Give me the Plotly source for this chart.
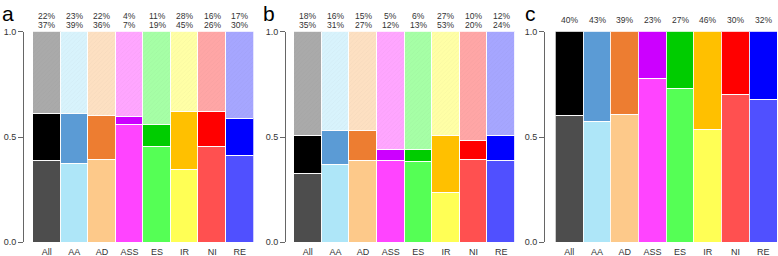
import plotly.graph_objects as go

W, H = 778, 256

categories = ["All", "AA", "AD", "ASS", "ES", "IR", "NI", "RE"]

a_low = [0.386, 0.372, 0.391, 0.557, 0.452, 0.343, 0.452, 0.410]
a_mid = [0.223, 0.237, 0.212, 0.038, 0.105, 0.276, 0.167, 0.175]
a_top = [0.391, 0.391, 0.397, 0.405, 0.443, 0.381, 0.381, 0.415]
a_row1 = ["22%", "23%", "22%", "4%", "11%", "28%", "16%", "17%"]
a_row2 = ["37%", "39%", "36%", "7%", "19%", "45%", "26%", "30%"]

b_low = [0.328, 0.368, 0.387, 0.387, 0.385, 0.236, 0.391, 0.387]
b_mid = [0.180, 0.164, 0.141, 0.051, 0.053, 0.270, 0.091, 0.118]
b_top = [0.492, 0.468, 0.472, 0.562, 0.562, 0.494, 0.518, 0.495]
b_row1 = ["18%", "16%", "15%", "5%", "6%", "27%", "10%", "12%"]
b_row2 = ["35%", "31%", "27%", "12%", "13%", "53%", "20%", "24%"]

c_low = [0.600, 0.575, 0.608, 0.775, 0.729, 0.537, 0.700, 0.676]
c_top = [0.400, 0.425, 0.392, 0.225, 0.271, 0.463, 0.300, 0.324]
c_row1 = ["40%", "43%", "39%", "23%", "27%", "46%", "30%", "32%"]

y_ticks = [0.0, 0.5, 1.0]
y_ticklabels = ["0.0", "0.5", "1.0"]

col_low = ["#4d4d4d", "#aee6f8", "#fdc98a", "#ff44ff", "#55ff55", "#ffff55", "#ff5050", "#5050ff"]
col_mid = ["#000000", "#5b9bd5", "#ed7d31", "#cc00ff", "#00cc00", "#ffc000", "#ff0000", "#0000ff"]
col_top = ["#aaaaaa", "#d8f3fc", "#fde0c2", "#ffa6ff", "#a6ffa6", "#ffffa6", "#ffa6a6", "#a6a6ff"]

FONT = "Liberation Sans, Arial, sans-serif"
line = dict(color="rgba(255,255,255,0.85)", width=1)

fig = go.Figure()

panels = [
    ("a", [a_low, a_mid, a_top], [col_low, col_mid, col_top], [a_row1, a_row2], (33, 253.5), 23),
    ("b", [b_low, b_mid, b_top], [col_low, col_mid, col_top], [b_row1, b_row2], (294, 515), 285),
    ("c", [c_low, c_top], [col_low, col_mid], [c_row1], (555.5, 777), 544),
]

y0_px, y1_px = 242.3, 31.7
ydom = [1 - y0_px / H, 1 - y1_px / H]

annotations = []
for i, (letter, segs, cols, rows, (xl, xr), axpx) in enumerate(panels):
    n = "" if i == 0 else str(i + 1)
    xa, ya = "x" + n, "y" + n
    for k, (vals, c) in enumerate(zip(segs, cols)):
        is_top = (k == len(segs) - 1) and letter != "c"
        marker = dict(color=c, line=line)
        if is_top:
            marker["pattern"] = dict(shape="/", fgcolor="#000000", fgopacity=0.05, size=3, solidity=0.2)
        fig.add_trace(go.Bar(x=categories, y=vals, marker=marker, xaxis=xa, yaxis=ya,
                             showlegend=False, hoverinfo="skip"))
    fig.update_layout({
        "xaxis" + n: dict(domain=[xl / W, xr / W], anchor=ya, showgrid=False, zeroline=False,
                          showline=False, ticks="", automargin=False, ticklabelstandoff=3,
                          tickfont=dict(family=FONT, size=9, color="#333"),
                          fixedrange=True),
        "yaxis" + n: dict(domain=ydom, range=[0, 1], anchor="free", position=axpx / W,
                          automargin=False,
                          showgrid=False, zeroline=False, showline=True, linecolor="#666", linewidth=1,
                          ticks="outside", ticklen=5, tickcolor="#666", tickvals=y_ticks,
                          ticktext=y_ticklabels, tickfont=dict(family=FONT, size=9, color="#333"),
                          fixedrange=True),
    })
    annotations.append(dict(text=letter, xref="paper", yref="paper", x=(xl - 33) / W, y=1.0,
                            xanchor="left", yanchor="top", showarrow=False,
                            font=dict(family=FONT, size=21, color="#000")))
    row_y = [15.5, 24.5] if len(rows) == 2 else [20]
    for r, labels in enumerate(rows):
        for cat, t in zip(categories, labels):
            annotations.append(dict(text=t, xref=xa, yref="paper", x=cat, y=1 - row_y[r] / H,
                                    xanchor="center", yanchor="middle", showarrow=False,
                                    font=dict(family=FONT, size=8.5, color="#333")))

fig.update_layout(
    barmode="stack", bargap=0, width=W, height=H,
    margin=dict(l=0, r=0, t=0, b=0, autoexpand=False),
    paper_bgcolor="white", plot_bgcolor="white",
    annotations=annotations,
)

fig.write_html("out.html", config={"displayModeBar": False},
               post_script="document.body.style.margin='0';document.body.style.overflow='hidden';")
